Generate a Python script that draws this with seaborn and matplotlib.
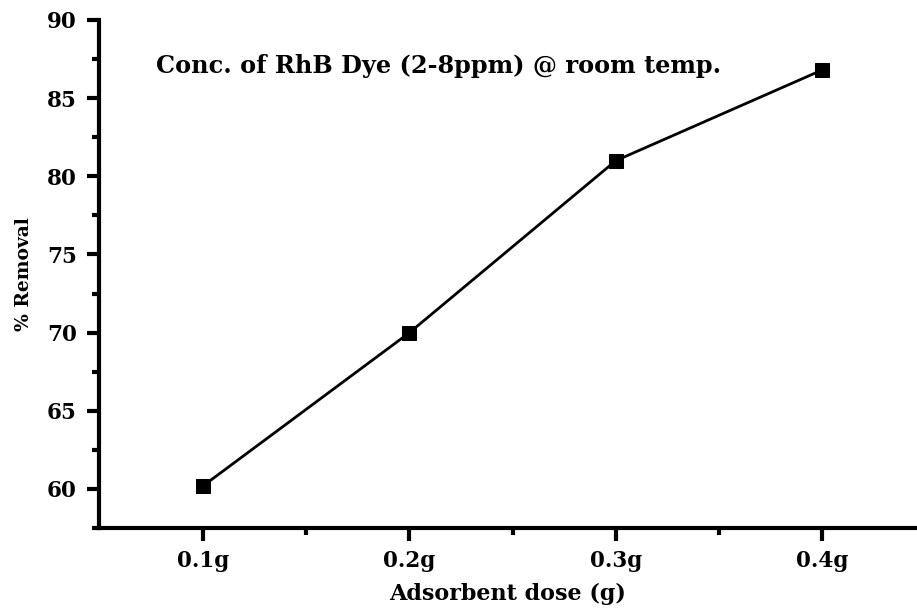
import matplotlib
matplotlib.use("Agg")
import matplotlib.pyplot as plt
import seaborn as sns
import pandas as pd
from matplotlib.ticker import MultipleLocator, FixedLocator

doses = ["0.1g", "0.2g", "0.3g", "0.4g"]
removal = [60.2, 70.0, 81.0, 86.8]
yticks = [60, 65, 70, 75, 80, 85, 90]

sns.set_style("ticks", {"axes.edgecolor": "black", "text.color": "black",
                        "xtick.color": "black", "ytick.color": "black",
                        "axes.labelcolor": "black"})
plt.rcParams["font.family"] = ["DejaVu Serif", "Liberation Serif"]
plt.rcParams["font.weight"] = "bold"

df = pd.DataFrame({"dose": doses, "removal": removal})

fig = plt.figure(figsize=(9.17, 6.08), dpi=100)
ax = fig.add_axes([99/917, 1 - 528/608, 1 - 99/917, (528 - 20)/608])

sns.lineplot(data=df, x="dose", y="removal", sort=False, ax=ax,
             color="black", linewidth=2, marker="s", markersize=10,
             markeredgecolor="black", markerfacecolor="black")

ax.set_xlim(-0.505, 3.46)
ax.set_ylim(57.5, 90)
ax.set_yticks(yticks)
ax.yaxis.set_minor_locator(MultipleLocator(2.5))
ax.xaxis.set_minor_locator(FixedLocator([0.5, 1.5, 2.5]))
ax.set_xticks(range(len(doses)))
ax.set_xticklabels(doses)

for s in ["top", "right"]:
    ax.spines[s].set_visible(False)
for s in ["left", "bottom"]:
    ax.spines[s].set_linewidth(3)
    ax.spines[s].set_color("black")

ax.tick_params(axis="both", which="major", direction="out", length=9, width=3,
               labelsize=15.5, colors="black")
ax.tick_params(axis="y", which="major", pad=7)
ax.tick_params(axis="x", which="major", pad=7)
ax.tick_params(axis="both", which="minor", direction="out", length=5, width=3,
               colors="black")
for lab in ax.get_xticklabels() + ax.get_yticklabels():
    lab.set_fontweight("bold")

ax.set_xlabel("Adsorbent dose (g)", fontsize=16, fontweight="bold", labelpad=8)
ax.set_ylabel("% Removal", fontsize=13.5, fontweight="bold", labelpad=10)

ax.text(0.07, 0.91, "Conc. of RhB Dye (2-8ppm) @ room temp.", transform=ax.transAxes,
        fontsize=17.3, fontweight="bold", ha="left", va="center")

fig.savefig("out.png", dpi=100)
